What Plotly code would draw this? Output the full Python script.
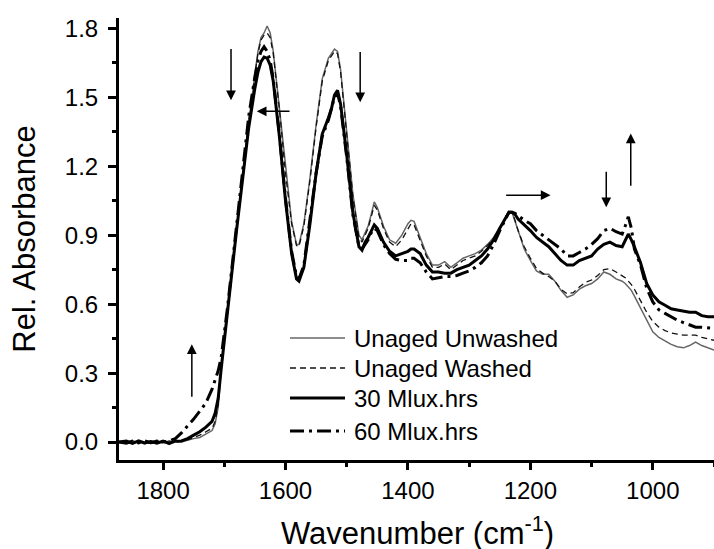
import plotly.graph_objects as go

wavenumber = [1872, 1860, 1850, 1840, 1830, 1820, 1810, 1800, 1790, 1780, 1770, 1760, 1750, 1740, 1730,
              1720, 1715, 1710, 1705, 1700, 1695, 1690, 1680, 1670, 1660, 1650, 1645, 1640, 1635, 1630,
              1625, 1620, 1610, 1600, 1590, 1582, 1578, 1570, 1560, 1550, 1540, 1530, 1525, 1520, 1515,
              1510, 1500, 1490, 1480, 1475, 1470, 1465, 1460, 1455, 1450, 1445, 1440, 1430, 1420, 1410,
              1400, 1395, 1390, 1380, 1370, 1360, 1350, 1340, 1330, 1320, 1310, 1300, 1290, 1280, 1270,
              1260, 1250, 1240, 1235, 1230, 1225, 1220, 1210, 1200, 1190, 1180, 1170, 1160, 1150, 1140,
              1130, 1120, 1110, 1100, 1090, 1080, 1070, 1060, 1050, 1045, 1040, 1035, 1030, 1020, 1010,
              1000, 990, 980, 970, 960, 950, 940, 930, 920, 910, 900]

unaged_unwashed = [0.00, 0.005, -0.005, 0.0, -0.008, 0.004, -0.006, 0.002, -0.01, 0.005, 0.0, 0.008, 0.015, 0.02, 0.035,
                   0.05, 0.08, 0.15, 0.32, 0.46, 0.57, 0.69, 0.93, 1.16, 1.39, 1.60, 1.70, 1.76, 1.78, 1.81,
                   1.78, 1.70, 1.45, 1.18, 0.96, 0.86, 0.86, 0.95, 1.15, 1.38, 1.58, 1.67, 1.69, 1.71, 1.70,
                   1.62, 1.35, 1.08, 0.90, 0.88, 0.91, 0.94, 0.99, 1.045, 1.02, 0.98, 0.94, 0.88, 0.865, 0.90,
                   0.95, 0.965, 0.96, 0.89, 0.82, 0.77, 0.77, 0.785, 0.76, 0.78, 0.80, 0.81, 0.82, 0.835, 0.86,
                   0.89, 0.93, 0.98, 1.0, 1.0, 0.96, 0.91, 0.84, 0.79, 0.745, 0.73, 0.73, 0.70, 0.66, 0.63,
                   0.64, 0.665, 0.68, 0.69, 0.71, 0.74, 0.73, 0.71, 0.70, 0.69, 0.675, 0.66, 0.635, 0.585, 0.53,
                   0.48, 0.455, 0.44, 0.425, 0.415, 0.41, 0.42, 0.435, 0.42, 0.41, 0.40]

unaged_washed = [0.00, -0.004, 0.006, -0.003, 0.0, -0.007, 0.003, -0.004, 0.005, -0.002, 0.004, 0.01, 0.02, 0.03, 0.045,
                 0.06, 0.09, 0.16, 0.33, 0.47, 0.58, 0.70, 0.94, 1.17, 1.40, 1.60, 1.69, 1.75, 1.77, 1.78,
                 1.76, 1.69, 1.45, 1.17, 0.95, 0.855, 0.85, 0.94, 1.14, 1.37, 1.57, 1.66, 1.68, 1.70, 1.69,
                 1.61, 1.34, 1.07, 0.89, 0.87, 0.90, 0.93, 0.98, 1.03, 1.01, 0.97, 0.93, 0.87, 0.85, 0.88,
                 0.93, 0.95, 0.945, 0.88, 0.81, 0.76, 0.76, 0.775, 0.75, 0.77, 0.79, 0.80, 0.81, 0.83, 0.855,
                 0.885, 0.93, 0.98, 1.0, 1.0, 0.965, 0.92, 0.85, 0.80, 0.755, 0.735, 0.72, 0.70, 0.665, 0.645,
                 0.65, 0.675, 0.695, 0.705, 0.725, 0.75, 0.755, 0.74, 0.725, 0.715, 0.70, 0.685, 0.665, 0.615, 0.565,
                 0.525, 0.50, 0.485, 0.475, 0.47, 0.465, 0.465, 0.465, 0.455, 0.448, 0.443]

mlux_30 = [0.00, 0.004, -0.006, 0.005, -0.004, 0.002, -0.005, 0.004, -0.006, 0.004, 0.005, 0.015, 0.03, 0.045, 0.065,
           0.09, 0.125, 0.19, 0.32, 0.45, 0.56, 0.68, 0.92, 1.15, 1.37, 1.54, 1.61, 1.655, 1.675, 1.67,
           1.64, 1.57, 1.33, 1.05, 0.82, 0.71, 0.70, 0.76, 0.95, 1.17, 1.34, 1.41, 1.45, 1.51, 1.53,
           1.47, 1.25, 1.00, 0.85, 0.835, 0.87, 0.89, 0.92, 0.945, 0.93, 0.90, 0.87, 0.83, 0.81, 0.82,
           0.83, 0.84, 0.84, 0.82, 0.77, 0.74, 0.74, 0.735, 0.735, 0.75, 0.76, 0.77, 0.79, 0.81, 0.84,
           0.88, 0.93, 0.98, 1.0, 1.0, 0.99, 0.97, 0.945, 0.92, 0.89, 0.87, 0.85, 0.82, 0.79, 0.77,
           0.77, 0.79, 0.80, 0.81, 0.84, 0.86, 0.87, 0.855, 0.85, 0.88, 0.905, 0.88, 0.85, 0.78, 0.69,
           0.64, 0.61, 0.595, 0.58, 0.575, 0.57, 0.565, 0.565, 0.55, 0.545, 0.545]

mlux_60 = [0.00, -0.005, 0.004, -0.004, 0.005, -0.003, 0.004, 0.0, 0.005, 0.015, 0.04, 0.07, 0.10, 0.135, 0.17,
           0.23, 0.27, 0.31, 0.37, 0.47, 0.58, 0.70, 0.95, 1.19, 1.42, 1.59, 1.66, 1.70, 1.72, 1.70,
           1.66, 1.58, 1.34, 1.06, 0.83, 0.72, 0.71, 0.77, 0.96, 1.17, 1.33, 1.40, 1.45, 1.50, 1.52,
           1.46, 1.24, 0.99, 0.85, 0.84, 0.86, 0.88, 0.91, 0.93, 0.92, 0.89, 0.86, 0.82, 0.795, 0.79,
           0.79, 0.80, 0.80, 0.78, 0.74, 0.71, 0.715, 0.72, 0.72, 0.725, 0.735, 0.745, 0.76, 0.78, 0.81,
           0.86, 0.92, 0.975, 1.0, 1.0, 0.995, 0.985, 0.965, 0.95, 0.92, 0.90, 0.88, 0.86, 0.84, 0.81,
           0.81, 0.825, 0.84, 0.86, 0.885, 0.92, 0.93, 0.915, 0.905, 0.94, 0.98, 0.93, 0.84, 0.77, 0.67,
           0.61, 0.575, 0.56, 0.545, 0.53, 0.52, 0.51, 0.50, 0.50, 0.497, 0.495]

series_names = ["Unaged Unwashed", "Unaged Washed", "30 Mlux.hrs", "60 Mlux.hrs"]

# arrows: head and tail in data units
arrow_heads_x = [1689, 1647, 1478, 1167, 1076, 1036, 1753]
arrow_heads_y = [1.487, 1.439, 1.478, 1.074, 1.022, 1.343, 0.426]
arrow_tails_x = [1689, 1591, 1478, 1242, 1076, 1036, 1753]
arrow_tails_y = [1.717, 1.439, 1.704, 1.074, 1.183, 1.109, 0.191]

FONT = "Liberation Sans, Arial, sans-serif"

L, R, T, B = 119, 0, 18, 89
W, H = 714, 549
pw, ph = W - L - R, H - T - B

fig = go.Figure()
styles = [
    dict(color="#666666", width=1.5, dash="solid"),
    dict(color="#111111", width=1.3, dash="6px,4px"),
    dict(color="#000000", width=3, dash="solid"),
    dict(color="#000000", width=3, dash="14px,5px,3px,5px"),
]
for name, vals, st in zip(series_names, [unaged_unwashed, unaged_washed, mlux_30, mlux_60], styles):
    fig.add_trace(go.Scatter(x=wavenumber, y=vals, mode="lines", name=name, line=st, showlegend=False))

for hx, hy, tx, ty in zip(arrow_heads_x, arrow_heads_y, arrow_tails_x, arrow_tails_y):
    fig.add_annotation(x=hx, y=hy, ax=tx, ay=ty, xref="x", yref="y", axref="x", ayref="y",
                       showarrow=True, arrowhead=2, arrowsize=1.3, arrowwidth=1.5,
                       arrowcolor="black", text="")

# manual legend (pixel layout -> paper coords)
legend_rows_px = [338, 368, 398, 431]
sample_x0_px, sample_x1_px, text_x_px = 290, 345, 352
for name, st, py in zip(series_names, styles, legend_rows_px):
    yp = 1 - (py - T) / ph
    fig.add_shape(type="line", xref="paper", yref="paper",
                  x0=(sample_x0_px - L) / pw, x1=(sample_x1_px - L) / pw, y0=yp, y1=yp,
                  line=dict(color=st["color"], width=st["width"], dash=st["dash"]))
    fig.add_annotation(x=(text_x_px - L) / pw, y=yp, xref="paper", yref="paper",
                       xanchor="left", yanchor="middle", showarrow=False, text=name,
                       font=dict(size=24, family=FONT, color="black"))

# x-axis title placed as paper annotation
fig.add_annotation(x=(417 - L) / pw, y=1 - (531 - T) / ph, xref="paper", yref="paper",
                   xanchor="center", yanchor="middle", showarrow=False,
                   text="Wavenumber (cm<sup>-1</sup>)", font=dict(size=31, family=FONT, color="black"))

fig.update_layout(
    width=W, height=H,
    margin=dict(l=L, r=R, t=T, b=B, autoexpand=False),
    paper_bgcolor="white", plot_bgcolor="white",
    font=dict(family=FONT, size=24, color="black"),
    showlegend=False,
    xaxis=dict(range=[1872, 900], automargin=False, showgrid=False, zeroline=False, showline=True, linewidth=3,
               linecolor="black", ticks="outside", ticklen=7, tickwidth=2.5, tickcolor="black",
               tickvals=[1800, 1600, 1400, 1200, 1000],
               minor=dict(tickvals=[1700, 1500, 1300, 1100, 900], ticklen=4, tickwidth=2.5, ticks="outside", tickcolor="black"),
               tickfont=dict(size=24)),
    yaxis=dict(range=[-0.078, 1.845], automargin=False, showgrid=False, zeroline=False, showline=True, linewidth=3,
               linecolor="black", ticks="outside", ticklen=8, tickwidth=2.5, tickcolor="black",
               tickvals=[0.0, 0.3, 0.6, 0.9, 1.2, 1.5, 1.8], ticktext=["0.0", "0.3", "0.6", "0.9", "1.2", "1.5", "1.8"],
               minor=dict(tickvals=[0.15, 0.45, 0.75, 1.05, 1.35, 1.65], ticklen=4, tickwidth=2.5, ticks="outside", tickcolor="black"),
               tickfont=dict(size=24), ticklabelstandoff=5,
               title=dict(text="Rel. Absorbance", font=dict(size=31), standoff=20)),
)

fig.write_html("out.html", config={"displayModeBar": False},
               post_script="document.body.style.margin='0px';")
